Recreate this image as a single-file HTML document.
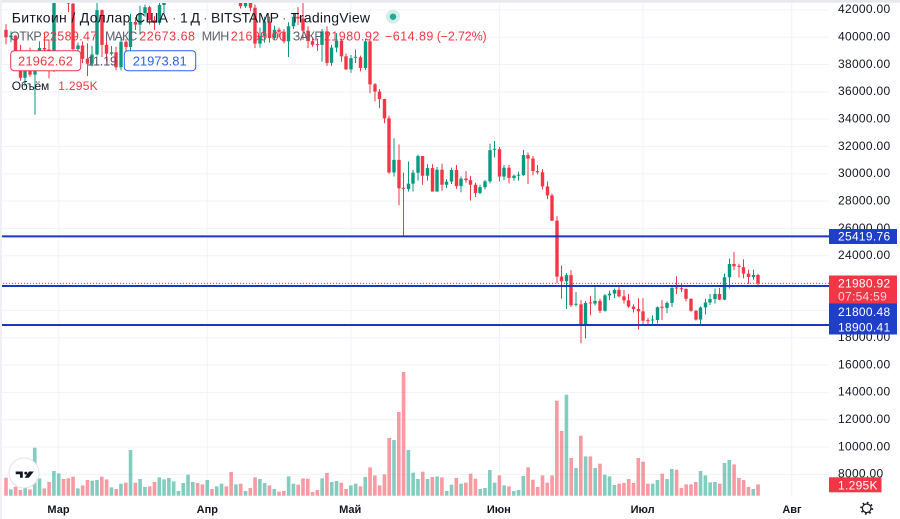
<!DOCTYPE html>
<html><head><meta charset="utf-8">
<style>
html,body{margin:0;padding:0;background:#fff;width:900px;height:519px;overflow:hidden;}
svg{display:block;font-family:"Liberation Sans","DejaVu Sans",sans-serif;}
</style></head><body>
<svg id="c" width="900" height="519" viewBox="0 0 900 519" xmlns="http://www.w3.org/2000/svg">
<defs><clipPath id="pc"><rect x="0" y="3" width="829" height="494"/></clipPath></defs>
<rect x="0" y="0" width="900" height="519" fill="#fff"/>
<g id="grid" stroke="#f0f3fa" stroke-width="1"></g>
<g id="vol" clip-path="url(#pc)"></g>
<g id="cand" clip-path="url(#pc)"></g>
<!-- horizontal lines -->
<line x1="0" x2="829" y1="283.4" y2="283.4" stroke="#f23645" stroke-width="1" stroke-dasharray="1 2"/>
<line x1="0" x2="829" y1="236.4" y2="236.4" stroke="#1b37bf" stroke-width="2"/>
<line x1="0" x2="829" y1="286" y2="286" stroke="#1b37bf" stroke-width="2"/>
<line x1="0" x2="829" y1="325" y2="325" stroke="#1b37bf" stroke-width="2"/>
<!-- price axis labels -->
<g id="axl" font-size="12" fill="#131722" letter-spacing="0.3"></g>
<!-- label boxes -->
<rect x="829" y="229" width="68" height="15" fill="#1f3fc9"/>
<text x="838" y="240.6" font-size="12" fill="#fff" letter-spacing="0.3">25419.76</text>
<rect x="829" y="275.5" width="68" height="28" fill="#f23645"/>
<text x="838" y="287.3" font-size="12" fill="#fff" letter-spacing="0.3">21980.92</text>
<text x="838" y="300.6" font-size="12" fill="#ffd4d8" letter-spacing="0.3">07:54:59</text>
<rect x="829" y="303.5" width="68" height="31" fill="#1f3fc9"/>
<text x="838" y="316" font-size="12" fill="#fff" letter-spacing="0.3">21800.48</text>
<text x="838" y="331.5" font-size="12" fill="#fff" letter-spacing="0.3">18900.41</text>
<rect x="829" y="477.3" width="52.5" height="15" fill="#f23645"/>
<text x="838" y="489.3" font-size="12" fill="#fff" letter-spacing="0.3">1.295K</text>
<!-- time axis -->
<g font-size="11" font-weight="bold" fill="#131722" text-anchor="middle">
<text x="58.5" y="513">Мар</text>
<text x="207.3" y="513">Апр</text>
<text x="350.2" y="513">Май</text>
<text x="498.8" y="513">Июн</text>
<text x="642.6" y="513">Июл</text>
<text x="792" y="513">Авг</text>
</g>
<!-- gear -->
<circle cx="866.7" cy="508.3" r="4.3" fill="none" stroke="#131722" stroke-width="1.2"/>
<circle cx="866.7" cy="508.3" r="5.6" fill="none" stroke="#131722" stroke-width="1.8" stroke-dasharray="1.6 2.8"/>
<!-- TV logo -->
<circle cx="24" cy="473" r="15" fill="#fff" stroke="#e0e3eb" stroke-width="1"/>
<path d="M15.7 471.5 H22.8 V477.8 H20 V474.3 H15.7 Z" fill="#131722"/>
<circle cx="25.8" cy="473.1" r="1.5" fill="#131722"/>
<path d="M29 471.5 H33.8 L28.8 477.8 H24.6 Z" fill="#131722"/>
<!-- header legend -->
<g fill="#131722" font-size="14">
<text x="11.7" y="22.6" textLength="156.3" lengthAdjust="spacing">Биткоин / Доллар США</text>
<text x="172" y="22.6" fill="#787b86">·</text>
<text x="180" y="22.6" textLength="20" lengthAdjust="spacing">1Д</text>
<text x="203" y="22.6" fill="#787b86">·</text>
<text x="211" y="22.6" textLength="68" lengthAdjust="spacing">BITSTAMP</text>
<text x="282" y="22.6" fill="#787b86">·</text>
<text x="290.7" y="22.6" textLength="79.3" lengthAdjust="spacing">TradingView</text>
</g>
<circle cx="393" cy="16.7" r="7" fill="#d3eee6"/>
<circle cx="393" cy="16.7" r="3.2" fill="#22ab94"/>
<g font-size="12.5">
<text x="10" y="40.7" fill="#5d606b" textLength="31.7" lengthAdjust="spacing">ОТКР</text>
<text x="42.7" y="40.7" fill="#f23645" textLength="54.6" lengthAdjust="spacing">22589.47</text>
<text x="105" y="40.7" fill="#5d606b" textLength="32.3" lengthAdjust="spacing">МАКС</text>
<text x="139.3" y="40.7" fill="#f23645" textLength="55.7" lengthAdjust="spacing">22673.68</text>
<text x="201.7" y="40.7" fill="#5d606b" textLength="27.6" lengthAdjust="spacing">МИН</text>
<text x="230.7" y="40.7" fill="#f23645" textLength="55.3" lengthAdjust="spacing">21699.00</text>
<text x="292.7" y="40.7" fill="#5d606b" textLength="30" lengthAdjust="spacing">ЗАКР</text>
<text x="324" y="40.7" fill="#f23645" textLength="55.3" lengthAdjust="spacing">21980.92</text>
<text x="385" y="40.7" fill="#f23645" textLength="48.3" lengthAdjust="spacing">−614.89</text>
<text x="436.7" y="40.7" fill="#f23645" textLength="50" lengthAdjust="spacing">(−2.72%)</text>
</g>
<rect x="10.7" y="50.7" width="70" height="20" rx="3.5" fill="#fff" stroke="#f23645" stroke-width="1"/>
<text x="18" y="65.3" font-size="13" fill="#f23645" textLength="55" lengthAdjust="spacing">21962.62</text>
<text x="87" y="65.3" font-size="12.5" fill="#50535e" textLength="30" lengthAdjust="spacing">11.19</text>
<rect x="124.3" y="50.7" width="71.4" height="20" rx="3.5" fill="#fff" stroke="#2962ff" stroke-width="1"/>
<text x="132.7" y="65.3" font-size="13" fill="#2962ff" textLength="54" lengthAdjust="spacing">21973.81</text>
<text x="11.7" y="90" font-size="12" fill="#131722" textLength="37.6" lengthAdjust="spacing">Объём</text>
<text x="58.3" y="90" font-size="12" fill="#f23645" textLength="39.4" lengthAdjust="spacing">1.295K</text>
<!-- frame strips -->
<rect x="0" y="0" width="900" height="2.7" fill="#e8e9ee"/>
<rect x="0" y="0" width="2" height="519" fill="#eef0f4"/>
</svg>
<script>
(function(){
function Y(v){return 146.5+(32000-v)*0.01366;}
var X0=58.7,DX=4.79;
var g='';
[58.7,207.3,350.9,499.4,642.9,791.7].forEach(function(x){g+='<line x1="'+x+'" x2="'+x+'" y1="3" y2="497"/>';});
var al='';
for(var v=8000;v<=42000;v+=2000){var y=Y(v);g+='<line x1="0" x2="829" y1="'+y.toFixed(2)+'" y2="'+y.toFixed(2)+'"/>';
 al+='<text x="838" y="'+(y+3.3).toFixed(2)+'">'+v+'.00</text>';}
document.getElementById('grid').innerHTML=g;
document.getElementById('axl').innerHTML=al;
var D=[[40540,40960,39480,40000],[40000,40440,39640,40120],[40120,40140,38000,38370],[38370,39440,36810,37030],[37030,38420,36400,38260],[38260,39240,37100,37260],[37260,38980,34330,38330],[38330,39700,38020,39210],[39210,40280,38580,39100],[39100,39830,37000,37700],[37700,43700,37450,43190],
[43190,44950,42850,44420],[44420,45400,43360,43920],[43920,44100,41840,42460],[42460,42500,38600,39140],[39140,39600,38600,39400],[39400,39690,38100,38420],[38420,39550,37160,38060],[38060,39370,37870,38740],[38740,42590,38660,41980],[41980,42030,38550,39440],[39440,40240,38230,38790],[38790,39360,38660,38900],[38900,39300,37580,37800],[37800,39950,37570,39670],[39670,39860,38120,39280],[39280,41720,38840,41120],[41120,41470,40530,40920],[40920,42300,40200,41760],[41760,42400,41500,42200],[42200,42300,40930,41250],[41250,41540,40530,41050],[41050,43330,40900,42360],[42360,42880,41760,42870],[42870,44200,42600,43990],[43990,45100,43600,44300],[44300,44800,44100,44500],[44500,46900,44400,46800],[46800,48200,46700,47100],[47100,48100,46900,47450],[47450,47700,46600,47060],[47060,47600,45200,45530],
[45530,46700,44200,46280],[46280,47200,45700,45810],[45810,47000,45600,46400],[46400,46800,45100,46600],[46600,47100,45400,45500],[45500,45500,43100,43200],[43200,43900,42750,43440],[43440,43950,42100,42270],[42270,42800,42150,42760],[42760,43400,41900,42160],[42160,42400,39200,39530],[39530,40700,39250,40090],[40090,41500,39600,41150],[41150,41500,39600,39940],[39940,40850,39800,40550],[40550,40700,40000,40400],[40400,40600,39550,39700],[39700,41100,38550,40800],[40800,41700,40600,41500],[41500,42200,40900,41370],[41370,42900,39800,40480],[40480,40800,39200,39710],[39710,39900,39300,39450],[39460,39900,39000,39440],[39440,40600,38200,40430],[40430,40800,37900,38120],[38120,39450,37900,39240],[39240,40300,38900,39740],[39740,39900,38200,38600],[38600,38800,37600,37650],
[37650,38700,37400,38470],[38470,39100,38100,38530],[38530,38650,37500,37750],[37750,39900,37600,39700],[39700,39800,35900,36550],[36550,36650,35300,36020],[36020,36200,34800,35470],[35470,35500,33700,34060],[34060,34250,30000,30100],[30100,32600,29800,31020],[31020,32150,27700,28940],[28940,30100,25420,28880],[28880,30900,28700,29280],[29280,30300,28700,30080],[30080,31400,29500,31300],[31300,31300,29200,29860],[29860,30700,29500,30420],[30420,30700,28700,28700],[28700,30500,28700,30300],[30300,30750,28750,29200],[29200,29600,28950,29430],[29430,30450,29250,30280],[30280,30650,28900,29100],[29100,29800,28650,29650],[29650,30200,29350,29540],[29540,29850,28050,29200],[29200,29350,28300,28600],[28600,29200,28500,29020],[29020,29550,28850,29450],[29450,32200,29300,31730],[31730,32400,31200,31800],
[31800,31950,29450,29800],[29800,30650,29550,30450],[30450,30650,29300,29700],[29700,29950,29500,29860],[29860,30150,29500,29900],[29900,31750,29850,31370],[31370,31550,29250,31120],[31120,31300,29900,30200],[30200,30650,29950,30110],[30110,30350,28850,29080],[29080,29450,28150,28420],[28420,28550,26550,26570],[26570,26900,22000,22480],[22480,23300,20850,22130],[22130,22750,20100,22580],[22580,22950,20250,20380],[20380,21350,20300,20450],[20450,20750,17600,19000],[19000,20700,17950,20550],[20550,21050,19650,20500],[20500,21700,20350,20700],[20700,20850,19800,19970],[19970,21200,19900,21100],[21100,21450,20750,21230],[21230,21600,20900,21500],[21500,21850,20950,21030],[21030,21500,20500,20740],[20740,21200,20200,20280],[20280,20450,19850,20100],[20100,20900,18600,19930],
[19930,20900,19000,19250],[19250,19450,18950,19230],[19230,19650,19000,19300],[19300,20300,19050,20230],[20230,20750,19300,20190],[20190,20650,19800,20550],[20550,21800,20250,21640],[21640,22500,21200,21590],[21590,21950,21350,21580],[21580,21600,20650,20850],[20850,20880,19900,19970],[19970,20050,19250,19330],[19330,20300,18900,20220],[20220,20850,19700,20580],[20580,21200,20400,20830],[20830,21600,20500,21200],[21200,21650,20750,20790],[20790,22700,20750,22430],[22430,23800,21600,23400],[23400,24280,22950,23230],[23230,23420,22400,23160],[23160,23750,22350,22690],[22690,22980,21950,22450],[22450,22980,22250,22590],[22590,22673,21699,21981]];
var V=[18,6.3,9,5.7,9,6.3,48,17.3,7.3,13.7,24.7,22.3,16.7,17.3,19,7.3,10.3,15.7,15,15.7,19,16.3,8.3,6.7,
12,13,45.7,13,16.7,8.7,9.3,13.7,18.3,16.3,17.7,14.3,4.7,12.7,21,13.7,12.7,11.3,15.7,6.7,9.3,12,9.3,23.7,11.3,12,4.7,7.7,18.3,16.7,12.7,10.3,6.7,4,4.7,19.3,12,11,17.3,17,3.7,5.7,17.3,22.7,13.7,14.7,13,6.7,10.3,12,9.3,18.7,28.3,20.3,10.3,
21.3,57.7,55.7,83.7,123.7,45.7,23,16.7,24,16.7,18.7,19.3,18.3,4.7,11,17.7,12,13,22,17,6.7,7.7,25.7,13,20.3,10.3,9.3,4.7,5.7,19.7,28.3,16,8.7,20.3,13,20.3,95,64.7,101,37.7,27.7,60,39.3,39.3,27.7,32,21,19.3,10.7,12,12.7,16.7,12.7,37.7,34,12,12,15.7,22,16.7,26.7,26,7.7,11.3,11.3,13.7,24.7,20.3,13.3,13.7,12,32.7,35.7,31.3,17.7,15.7,8.7,6.7,11.3];
var cs='',vs='',base=495.7;
for(var i=0;i<D.length;i++){
 var d=i-11,x=X0+d*DX,c=D[i],o=c[0],h=c[1],l=c[2],cl=c[3],up=cl>=o;
 var col=up?'#089981':'#f23645';
 var xw=(Math.round(x*2)/2);
 cs+='<line x1="'+xw+'" x2="'+xw+'" y1="'+Y(h).toFixed(2)+'" y2="'+Y(l).toFixed(2)+'" stroke="'+col+'" stroke-width="1"/>';
 var t=Math.min(Y(o),Y(cl)),b=Math.max(Y(o),Y(cl));
 if(b-t<1){t-=0.5;b=t+1;}
 cs+='<rect x="'+(xw-1.7).toFixed(2)+'" y="'+t.toFixed(2)+'" width="3.4" height="'+(b-t).toFixed(2)+'" fill="'+col+'"/>';
 var vh=V[i]||0;
 vs+='<rect x="'+(x-1.8).toFixed(2)+'" y="'+(base-vh).toFixed(2)+'" width="3.6" height="'+vh.toFixed(2)+'" fill="'+(up?'rgba(8,153,129,0.5)':'rgba(242,54,69,0.5)')+'"/>';
}
document.getElementById('cand').innerHTML=cs;
document.getElementById('vol').innerHTML=vs;
})();
</script>
</body></html>
